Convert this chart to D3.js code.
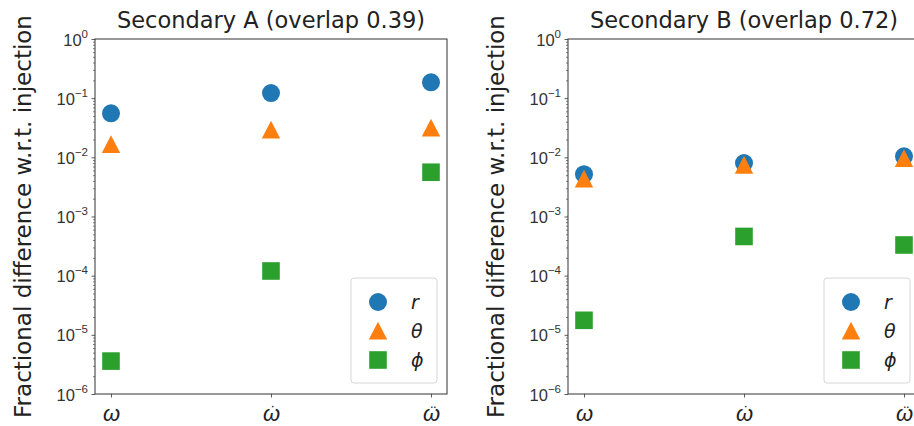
<!DOCTYPE html>
<html><head><meta charset="utf-8">
<script src="https://cdn.jsdelivr.net/npm/d3@7"></script>
<style>
body{margin:0;background:#fff;}
svg{display:block;font-family:"DejaVu Sans",sans-serif;}
</style>
</head><body><svg id="c" width="914" height="426"></svg>
<script>
// ---- data ----
const categories = ["\u03C9", "\u03C9", "\u03C9"];
const categoryAccents = ["", "\u02D9", "\u00A8"];
const seriesNames = ["r", "\u03B8", "\u03D5"];
const panelTitles = ["Secondary A (overlap 0.39)", "Secondary B (overlap 0.72)"];
const panelA_r     = [0.0555, 0.122, 0.185];
const panelA_theta = [0.0165, 0.029, 0.0313];
const panelA_phi   = [3.6e-6, 1.2e-4, 5.6e-3];
const panelB_r     = [5.2e-3, 8.0e-3, 0.0104];
const panelB_theta = [4.3e-3, 7.4e-3, 9.6e-3];
const panelB_phi   = [1.76e-5, 4.6e-4, 3.3e-4];
const yTickExponents = [0, -1, -2, -3, -4, -5, -6];
const yLabel = "Fractional difference w.r.t. injection";
const colors = ["#1f77b4", "#ff7f0e", "#2ca02c"];
const shapes = ["circle", "triangle", "square"];

const panels = [
  {title: panelTitles[0], series: [panelA_r, panelA_theta, panelA_phi], left: 95},
  {title: panelTitles[1], series: [panelB_r, panelB_theta, panelB_phi], left: 568}
];

const svg = d3.select("#c");
const axTop = 39, axBottom = 394, axWidth = 352;

function markerPath(shape) {
  if (shape === "circle") return d3.symbol(d3.symbolCircle, Math.PI * 9 * 9)();
  if (shape === "square") return "M-8.8,-8.8H8.8V8.8H-8.8Z";
  return "M0,-9.2L9.2,8.6L-9.2,8.6Z";
}

panels.forEach(p => {
  const x = d3.scaleLinear().domain([-0.1, 2.1]).range([p.left, p.left + axWidth]);
  const y = d3.scaleLog().domain([1e-6, 1]).range([axBottom, axTop]);
  const g = svg.append("g");

  // minor ticks
  const minor = [];
  for (let e = -6; e < 0; e++) for (let k = 2; k <= 9; k++) minor.push(k * Math.pow(10, e));
  const minorAxis = d3.axisLeft(y).tickValues(minor).tickSize(2).tickFormat("");
  const mg = g.append("g").attr("transform", `translate(${p.left},0)`).call(minorAxis);
  mg.select(".domain").remove();
  mg.selectAll("line").attr("stroke", "#333").attr("stroke-width", 0.6);

  // major y ticks
  const yAxis = d3.axisLeft(y).tickValues(yTickExponents.map(e => Math.pow(10, e)))
    .tickSize(3.5).tickPadding(4).tickFormat("");
  const yg = g.append("g").attr("transform", `translate(${p.left},0)`).call(yAxis);
  yg.select(".domain").remove();
  yg.selectAll("line").attr("stroke", "#333").attr("stroke-width", 0.8);
  yg.selectAll(".tick").each(function(d) {
    const e = Math.round(Math.log10(d));
    const t = d3.select(this).append("text")
      .attr("x", -7).attr("y", 6).attr("text-anchor", "end")
      .attr("fill", "#333").attr("font-size", 16.5);
    t.append("tspan").text("10");
    t.append("tspan").attr("dy", -8).attr("font-size", 11.5)
      .text(e === 0 ? "0" : "\u2212" + Math.abs(e));
  });

  // x ticks: italic omega with its dot accents as separately positioned chunks
  const xAxis = d3.axisBottom(x).tickValues([0, 1, 2]).tickSize(3.5).tickFormat("");
  const xg = g.append("g").attr("transform", `translate(0,${axBottom})`).call(xAxis);
  xg.select(".domain").remove();
  xg.selectAll("line").attr("stroke", "#333").attr("stroke-width", 0.8);
  xg.selectAll(".tick").each(function(d) {
    const t = d3.select(this).append("text")
      .attr("text-anchor", "middle").attr("fill", "#222");
    t.append("tspan").attr("x", 0).attr("y", 27)
      .attr("font-size", 22).attr("font-style", "italic").text(categories[d]);
    if (categoryAccents[d]) {
      t.append("tspan").attr("x", 2).attr("y", 24)
        .attr("font-size", 16).text(categoryAccents[d]);
    }
  });

  // spines
  g.append("rect").attr("x", p.left).attr("y", axTop).attr("width", axWidth).attr("height", axBottom - axTop)
    .attr("fill", "none").attr("stroke", "#333").attr("stroke-width", 1);

  // title
  g.append("text").attr("x", p.left + axWidth / 2).attr("y", 28).attr("text-anchor", "middle")
    .attr("font-size", 22.5).attr("fill", "#222").text(p.title);

  // y label
  g.append("text").attr("transform", `translate(${p.left - 64},${(axTop + axBottom) / 2}) rotate(-90)`)
    .attr("text-anchor", "middle").attr("font-size", 23).attr("fill", "#222").text(yLabel);

  // markers
  p.series.forEach((vals, si) => {
    g.selectAll(null).data(vals).enter().append("path")
      .attr("d", markerPath(shapes[si]))
      .attr("transform", (v, i) => `translate(${x(i)},${y(v)})`)
      .attr("fill", colors[si]);
  });

  // legend
  const lw = 86, lh = 105;
  const lx = p.left + axWidth - 10 - lw, ly = axBottom - 11 - lh;
  const lg = g.append("g").attr("transform", `translate(${lx},${ly})`);
  lg.append("rect").attr("width", lw).attr("height", lh).attr("rx", 3)
    .attr("fill", "#fff").attr("fill-opacity", 0.8).attr("stroke", "#d6d6d6").attr("stroke-width", 1);
  seriesNames.forEach((nm, si) => {
    const ry = 24 + si * 29;
    lg.append("path").attr("d", markerPath(shapes[si]))
      .attr("transform", `translate(27,${ry})`).attr("fill", colors[si]);
    lg.append("text").attr("x", 60).attr("y", ry + 7).attr("font-size", 19)
      .attr("font-style", "italic").attr("fill", "#222").text(nm);
  });
});
</script>
</body></html>
